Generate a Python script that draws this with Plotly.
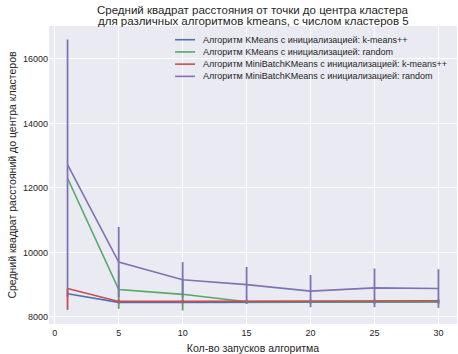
import plotly.graph_objects as go

runs = [1, 5, 10, 15, 20, 25, 30]

series_names = [
    "Алгоритм KMeans с инициализацией: k-means++",
    "Алгоритм KMeans с инициализацией: random",
    "Алгоритм MiniBatchKMeans с инициализацией: k-means++",
    "Алгоритм MiniBatchKMeans с инициализацией: random",
]

# means and visible error extents (upper / lower)
kmeans_pp_mean = [8720, 8450, 8450, 8450, 8450, 8450, 8460]
kmeans_pp_err_up = [100, 40, 40, 40, 40, 40, 40]
kmeans_pp_err_down = [100, 40, 40, 40, 40, 40, 40]

kmeans_rand_mean = [12300, 8850, 8700, 8470, 8470, 8470, 8470]
kmeans_rand_err_up = [0, 600, 500, 60, 50, 50, 50]
kmeans_rand_err_down = [0, 600, 500, 60, 50, 50, 50]

mb_pp_mean = [8880, 8480, 8480, 8480, 8490, 8490, 8500]
mb_pp_err_up = [0, 60, 50, 50, 50, 50, 50]
mb_pp_err_down = [660, 60, 50, 50, 50, 50, 50]

mb_rand_mean = [12720, 9700, 9150, 9000, 8800, 8900, 8880]
mb_rand_err_up = [3880, 1090, 550, 550, 500, 600, 600]
mb_rand_err_down = [3880, 1090, 550, 550, 500, 600, 600]

colors = ["#4C72B0", "#55A868", "#C44E52", "#8172B2"]

x_ticks = [0, 5, 10, 15, 20, 25, 30]
y_ticks = [8000, 10000, 12000, 14000, 16000]
y_tick_labels = ["8000", "10000", "12000", "14000", "16000"]

title_lines = ["Средний квадрат расстояния от точки до центра кластера",
               "для различных алгоритмов kmeans, с числом кластеров 5"]
x_title = "Кол-во запусков алгоритма"
y_title = "Средний квадрат расстояний до центра кластеров"

means = [kmeans_pp_mean, kmeans_rand_mean, mb_pp_mean, mb_rand_mean]
errs_up = [kmeans_pp_err_up, kmeans_rand_err_up, mb_pp_err_up, mb_rand_err_up]
errs_down = [kmeans_pp_err_down, kmeans_rand_err_down, mb_pp_err_down, mb_rand_err_down]

FONT = "Liberation Sans, Arial, sans-serif"
TXT = "#262626"

fig = go.Figure()
for name, m, eu, ed, c in zip(series_names, means, errs_up, errs_down, colors):
    fig.add_trace(go.Scatter(
        x=runs, y=m, name=name, mode="lines", showlegend=False,
        line=dict(color=c, width=1.6),
        error_y=dict(type="data", symmetric=False, array=eu, arrayminus=ed,
                     visible=True, color=c, thickness=1.8, width=0),
    ))

# title (two centred lines)
for i, line in enumerate(title_lines):
    fig.add_annotation(
        text=line, xref="paper", yref="paper", x=0.5, y=1.055 - i * 0.0385,
        xanchor="center", yanchor="middle", showarrow=False,
        font=dict(size=11.5, color=TXT),
    )

# legend (compact, matplotlib-like)
leg_y = [0.954, 0.913, 0.872, 0.831]
for name, c, yy in zip(series_names, colors, leg_y):
    fig.add_shape(type="line", xref="paper", yref="paper",
                  x0=0.309, x1=0.358, y0=yy, y1=yy,
                  line=dict(color=c, width=1.6))
    fig.add_annotation(text=name, xref="paper", yref="paper", x=0.373, y=yy,
                       xanchor="left", yanchor="middle", showarrow=False,
                       font=dict(size=9, color=TXT))

fig.update_layout(
    width=458, height=354,
    margin=dict(l=49, r=1, t=26, b=30, autoexpand=False),
    paper_bgcolor="white",
    plot_bgcolor="#EAEAF2",
    font=dict(family=FONT, size=10, color=TXT),
    showlegend=False,
    xaxis=dict(range=[-0.45, 31.45], tickvals=x_ticks, showgrid=True,
               gridcolor="white", gridwidth=1, zeroline=False, showline=False,
               ticks="", tickfont=dict(size=9), automargin=False,
               ticklabelstandoff=2,
               title=dict(text=x_title, font=dict(size=10.5), standoff=8)),
    yaxis=dict(range=[7780, 17020], tickvals=y_ticks, ticktext=y_tick_labels,
               showgrid=True, automargin=False,
               gridcolor="white", gridwidth=1, zeroline=False, showline=False,
               ticks="", tickfont=dict(size=9),
               title=dict(text=y_title, font=dict(size=10.5), standoff=4)),
)

fig.write_html("out.html", config={"displayModeBar": False},
               post_script="document.body.style.margin='0';document.body.style.overflow='hidden';")
